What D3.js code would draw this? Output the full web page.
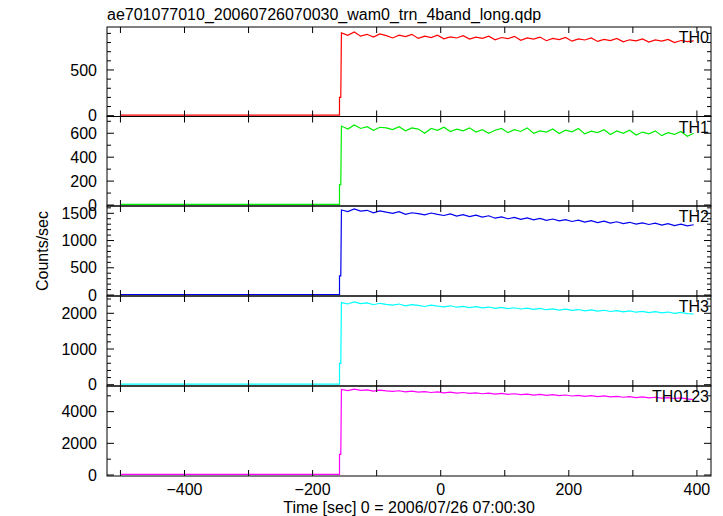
<!DOCTYPE html>
<html><head><meta charset="utf-8">
<script src="https://cdn.jsdelivr.net/npm/d3@7"></script>
<style>body{margin:0;background:#fff}text{font-family:"Liberation Sans",Arial,sans-serif}</style>
</head><body>
<svg id="chart" width="723" height="516"></svg>
<script>
const bandNames = ["TH0", "TH1", "TH2", "TH3", "TH0123"];
const bandColors = ["#ff0000", "#00ee00", "#0000ee", "#00ffff", "#ff00ff"];
// quiet level before the trigger and the partial first bin
const preLevel = [6, 5, 10, 15, 36];
const firstBin = [200, 170, 350, 600, 1300];
// 10 s bins from -155 s
const th0 = [905,880,915,870,890,860,895,875, 850,880,865,890,845,870,855,880,
  840,862,850,875,838,860,845,870, 830,855,842,868,825,850,838,860,
  820,845,832,855,815,840,828,850, 812,835,822,845,808,830,818,840,
  805,828,815,835,800,822,810,818];
const th1 = [660,635,670,640,655,625,650,645, 630,655,620,645,635,600,640,625,
  650,615,635,620,645,610,630,600, 625,640,605,630,615,645,600,620,
  610,635,598,625,612,640,595,618, 605,630,590,620,600,625,585,610,
  595,620,580,605,590,615,575,600];
const th2 = [1560,1530,1580,1540,1555,1510,1545,1520, 1500,1530,1480,1510,1495,1470,1505,1480,
  1460,1490,1450,1475,1440,1465,1430,1455, 1410,1435,1400,1425,1390,1415,1380,1405,
  1370,1395,1360,1385,1350,1375,1340,1365, 1330,1355,1320,1345,1310,1335,1300,1325,
  1295,1320,1285,1310,1275,1300,1270,1290];
const th3 = [2300,2260,2320,2270,2290,2240,2280,2250, 2230,2260,2210,2240,2220,2190,2230,2200,
  2180,2210,2170,2195,2160,2185,2150,2175, 2140,2165,2130,2155,2120,2145,2110,2135,
  2100,2125,2090,2115,2080,2105,2070,2095, 2060,2085,2050,2075,2040,2065,2030,2055,
  2020,2045,2010,2035,2000,2025,1990,1980];
const th0123 = [5400,5330,5420,5350,5380,5300,5360,5310, 5280,5320,5250,5290,5230,5270,5210,5250,
  5190,5230,5170,5210,5150,5190,5130,5170, 5110,5150,5090,5130,5070,5110,5050,5090,
  5030,5070,5010,5050,4990,5030,4970,5010, 4950,4990,4930,4970,4910,4950,4890,4930,
  4870,4910,4850,4890,4830,4870,4810,4760];
const series = [th0, th1, th2, th3, th0123];
const binStart = -155, binWidth = 10;
const xTicks = [-500,-400,-300,-200,-100,0,100,200,300,400];
const xLabels = [-400,-200,0,200,400];
const yMajor = [[0,500],[0,200,400,600],[0,500,1000,1500],[0,1000,2000],[0,2000,4000]];
const yMinorStep = [100,100,100,200,1000];

const svg = d3.select("#chart");
const left = 107, right = 711;
const panels = [[27,116.5,-9,970],[116.5,206,-8,740],[206,296,-18,1634],[296,386,-36,2484],[386,476,-63,5620]];
const x = d3.scaleLinear().domain([-521, 422]).range([left, right]);

panels.forEach(([top, bottom, lo, hi], i) => {
  const y = d3.scaleLinear().domain([lo, hi]).range([bottom, top]);
  const vals = series[i];
  const pts = [[-500, preLevel[i]], [-158, preLevel[i]], [-158, firstBin[i]], [-156, firstBin[i]]];
  vals.forEach((v, k) => pts.push([binStart + k * binWidth, v]));
  svg.append("path").datum(pts)
    .attr("fill", "none").attr("stroke", bandColors[i]).attr("stroke-width", 1.2)
    .attr("d", d3.line().x(d => x(d[0])).y(d => y(d[1])));

  const g = svg.append("g").attr("stroke", "#000").attr("stroke-width", 1);
  const minor = d3.range(0, hi, yMinorStep[i]).filter(v => !yMajor[i].includes(v));
  yMajor[i].forEach(v => {
    g.append("line").attr("x1", left).attr("x2", left + 7).attr("y1", y(v)).attr("y2", y(v));
    g.append("line").attr("x1", right).attr("x2", right - 7).attr("y1", y(v)).attr("y2", y(v));
  });
  minor.forEach(v => {
    g.append("line").attr("x1", left).attr("x2", left + 4).attr("y1", y(v)).attr("y2", y(v));
    g.append("line").attr("x1", right).attr("x2", right - 4).attr("y1", y(v)).attr("y2", y(v));
  });
  xTicks.forEach(t => {
    g.append("line").attr("x1", x(t)).attr("x2", x(t)).attr("y1", bottom).attr("y2", bottom - 6);
    g.append("line").attr("x1", x(t)).attr("x2", x(t)).attr("y1", top).attr("y2", top + 6);
  });
  g.append("rect").attr("x", left).attr("y", top).attr("width", right - left).attr("height", bottom - top)
    .attr("fill", "none");
  yMajor[i].forEach(v => {
    svg.append("text").attr("x", left - 10).attr("y", y(v)).attr("dy", "0.35em")
      .attr("text-anchor", "end").attr("font-size", 16).text(v);
  });
  svg.append("text").attr("x", right - 2).attr("y", top + 16)
    .attr("text-anchor", "end").attr("font-size", 16).text(bandNames[i]);
});

xLabels.forEach(t => {
  svg.append("text").attr("x", x(t)).attr("y", 495).attr("text-anchor", "middle")
    .attr("font-size", 16).text(t < 0 ? "\u2212" + (-t) : t);
});
svg.append("text").attr("x", 409).attr("y", 513).attr("text-anchor", "middle")
  .attr("font-size", 16).text("Time [sec] 0 = 2006/07/26 07:00:30");
svg.append("text").attr("transform", "translate(48,251) rotate(-90)").attr("text-anchor", "middle")
  .attr("font-size", 16).text("Counts/sec");
svg.append("text").attr("x", 107).attr("y", 20).attr("font-size", 16)
  .text("ae701077010_20060726070030_wam0_trn_4band_long.qdp");
</script>
</body></html>
